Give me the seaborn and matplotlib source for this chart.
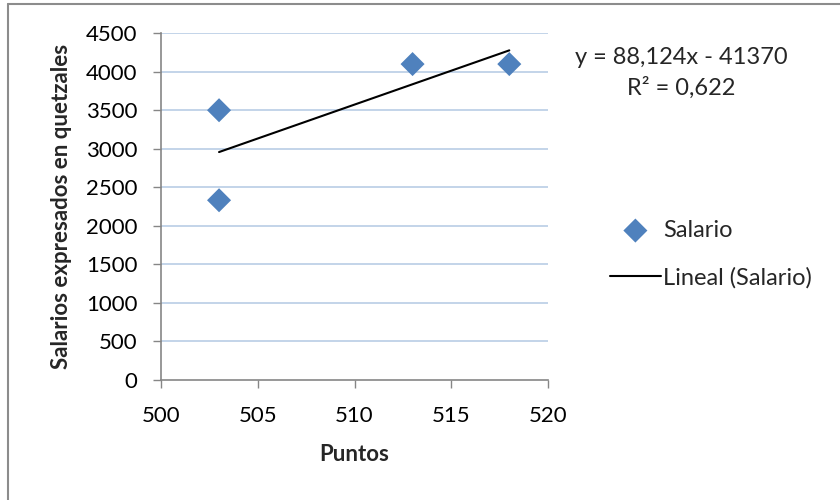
import matplotlib
matplotlib.use("Agg")
import matplotlib.pyplot as plt
from matplotlib.lines import Line2D
import numpy as np
import pandas as pd
import seaborn as sns

# Scores and salaries
puntos = [503, 503, 513, 518]
salarios = [3500, 2330, 4100, 4100]

# Linear trendline coefficients
pendiente = 88.124
intercepto = -41370
r2 = 0.622

x_ticks = [500, 505, 510, 515, 520]
y_ticks = [0, 500, 1000, 1500, 2000, 2500, 3000, 3500, 4000, 4500]

sns.set_theme(style="white")
plt.rcParams["font.family"] = ["Lato", "DejaVu Sans"]

df = pd.DataFrame({"Puntos": puntos, "Salario": salarios})
tx = np.array([min(puntos), max(puntos)])
trend = pd.DataFrame({"Puntos": tx, "Lineal": pendiente * tx + intercepto})

fig = plt.figure(figsize=(8.4, 5.0), dpi=100)
ax = fig.add_axes([161 / 840, 1 - 379.5 / 500, (548 - 161) / 840, (379.5 - 33.3) / 500])

grid_c = "#B9CDE5"
for yv in y_ticks[1:]:
    ax.axhline(yv, color=grid_c, lw=1.2, zorder=0)

sns.lineplot(data=trend, x="Puntos", y="Lineal", color="black", lw=1.5, ax=ax,
             label="Lineal (Salario)", zorder=2)
sns.scatterplot(data=df, x="Puntos", y="Salario", marker="D", s=150, color="#4F81BD",
                edgecolor="none", ax=ax, label="Salario", zorder=3)

ax.set_xlim(500, 520)
ax.set_ylim(0, 4500)
ax.set_xticks(x_ticks)
ax.set_yticks(y_ticks)
ax.tick_params(axis="both", labelsize=16, colors="#000000", length=5.8, width=1,
               direction="out", left=True, bottom=True, color="#868686")
ax.tick_params(axis="y", pad=11)
ax.tick_params(axis="x", pad=13)
for side in ["top", "right"]:
    ax.spines[side].set_visible(False)
for side in ["left", "bottom"]:
    ax.spines[side].set_color("#868686")
    ax.spines[side].set_linewidth(1.2)

ax.set_xlabel("Puntos", fontsize=16, fontweight="bold", labelpad=13)
ax.set_ylabel("Salarios expresados en quetzales", fontsize=16, fontweight="bold", labelpad=10)

fig.text(681 / 840, 1 - 58 / 500, "y = 88,124x - 41370", ha="center", va="center", fontsize=17)
fig.text(681 / 840, 1 - 88 / 500, "R² = 0,622", ha="center", va="center", fontsize=17)

# legend order: markers first, trendline second
handles, labels = ax.get_legend_handles_labels()
order = [labels.index("Salario"), labels.index("Lineal (Salario)")]
leg = ax.legend([handles[i] for i in order], [labels[i] for i in order],
                loc="center left", bbox_to_anchor=(610 / 840, 1 - 254 / 500),
                bbox_transform=fig.transFigure, frameon=False, fontsize=17,
                handlelength=2.15, handletextpad=0.1, labelspacing=1.1,
                borderpad=0, borderaxespad=0)

# chart frame
fig.add_artist(Line2D([8 / 840, 8 / 840], [0, 1 - 4 / 500], transform=fig.transFigure,
                      color="#8C8C8C", lw=1.5))
fig.add_artist(Line2D([8 / 840, 1], [1 - 4 / 500, 1 - 4 / 500], transform=fig.transFigure,
                      color="#8C8C8C", lw=1.5))

fig.savefig("out.png", dpi=100)
